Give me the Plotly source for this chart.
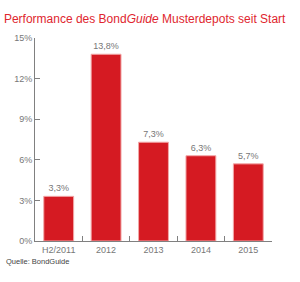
import plotly.graph_objects as go

categories = ["H2/2011", "2012", "2013", "2014", "2015"]
values = [3.3, 13.8, 7.3, 6.3, 5.7]
labels = ["3,3%", "13,8%", "7,3%", "6,3%", "5,7%"]
y_ticks = [0, 3, 6, 9, 12, 15]
y_tick_labels = ["0%", "3%", "6%", "9%", "12%", "15%"]

fig = go.Figure(go.Bar(
    x=categories, y=values, text=labels, textposition="outside",
    textfont=dict(size=9, color="#777777", family="Liberation Sans, Arial"),
    marker=dict(color="#d51a22", line=dict(color="#f2a8a8", width=1)),
    cliponaxis=False,
))

fig.update_layout(
    width=300, height=282,
    margin=dict(l=35, r=28, t=38, b=41),
    plot_bgcolor="white", paper_bgcolor="white",
    bargap=0.37, showlegend=False,
    font=dict(family="Liberation Sans, Arial", color="#777777", size=9),
    title=dict(text="Performance des Bond<i>Guide</i> Musterdepots seit Start",
               x=0.013, xanchor="left", y=0.935, yanchor="middle",
               font=dict(size=12, color="#e0262e", family="Liberation Sans, Arial")),
    xaxis=dict(showline=True, linecolor="#808080", linewidth=1,
               ticks="inside", ticklen=5, tickcolor="#808080", tickson="boundaries",
               showgrid=False, tickfont=dict(size=9, color="#777777")),
    yaxis=dict(range=[0, 15], tickvals=y_ticks, ticktext=y_tick_labels,
               showline=True, linecolor="#808080", linewidth=1,
               ticks="inside", ticklen=5, tickcolor="#808080",
               showgrid=False, zeroline=False, tickfont=dict(size=9, color="#777777")),
    annotations=[dict(text="Quelle: BondGuide", xref="paper", yref="paper",
                      x=-0.131, y=-0.103, xanchor="left", yanchor="middle", showarrow=False,
                      font=dict(size=7.5, color="#444444", family="Liberation Sans, Arial"))],
)

fig.write_html("out.html")
